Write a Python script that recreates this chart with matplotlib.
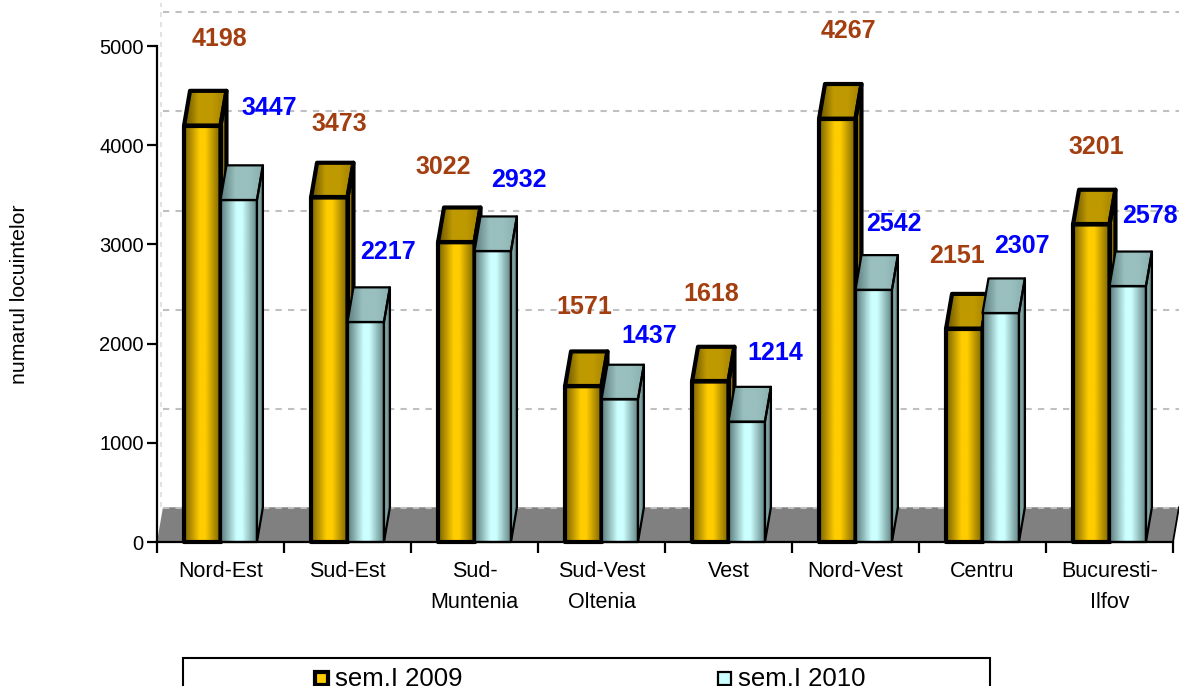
import numpy as np
import matplotlib
matplotlib.use('Agg')
import matplotlib.pyplot as plt
from matplotlib.colors import LinearSegmentedColormap
from matplotlib.patches import Polygon, Rectangle

plt.rcParams['font.family'] = ['Liberation Sans', 'DejaVu Sans']

regiuni = ['Nord-Est', 'Sud-Est', 'Sud-\nMuntenia', 'Sud-Vest\nOltenia', 'Vest',
           'Nord-Vest', 'Centru', 'Bucuresti-\nIlfov']
sem_2009 = [4198, 3473, 3022, 1571, 1618, 4267, 2151, 3201]
sem_2010 = [3447, 2217, 2932, 1437, 1214, 2542, 2307, 2578]
yticks = [0, 1000, 2000, 3000, 4000, 5000]

# pixel offsets of the value labels from the top of each bar
off_2009 = [(17, 87), (10, 73), (-13, 75), (1, 79), (1, 87), (11, 88), (-7, 73), (5, 77)]
off_2010 = [(31, 92), (22, 70), (26, 71), (30, 63), (29, 69), (20, 66), (21, 67), (22, 70)]

W, H = 1179, 686
fig = plt.figure(figsize=(W / 100, H / 100), dpi=100)
ax = fig.add_axes([157 / W, (H - 542) / H, 1016 / W, 496 / H])
ax.set_xlim(0, 8)
ax.set_ylim(0, 5000)

dx = 0.047    # depth of the fake 3d, in categories
dy = 350      # and in axis units
grid_dy = 340
bw = 0.287    # bar width


def grad(ax, xy, colors, z):
    # polygon filled with a horizontal gradient
    cmap = LinearSegmentedColormap.from_list('g', colors)
    xs = [p[0] for p in xy]
    ys = [p[1] for p in xy]
    im = ax.imshow(np.linspace(0, 1, 64).reshape(1, -1), cmap=cmap, aspect='auto',
                   extent=[min(xs), max(xs), min(ys), max(ys)], zorder=z,
                   interpolation='bilinear')
    clip = Polygon(xy, closed=True, transform=ax.transData, fc='none', ec='none')
    ax.add_patch(clip)
    im.set_clip_box(None)
    im.set_clip_path(clip)


def bar3d(ax, x0, v, front, top, side, lw, z):
    x1 = x0 + bw
    grad(ax, [(x1, 0), (x1 + dx, dy), (x1 + dx, v + dy), (x1, v)], side, z)
    grad(ax, [(x0, v), (x0 + dx, v + dy), (x1 + dx, v + dy), (x1, v)], top, z + 0.1)
    grad(ax, [(x0, 0), (x1, 0), (x1, v), (x0, v)], front, z + 0.2)
    for xy in ([(x1, 0), (x1 + dx, dy), (x1 + dx, v + dy), (x1, v)],
               [(x0, v), (x0 + dx, v + dy), (x1 + dx, v + dy), (x1, v)],
               [(x0, 0), (x1, 0), (x1, v), (x0, v)]):
        ax.add_patch(Polygon(xy, closed=True, fc='none', ec='black', lw=lw,
                             joinstyle='round', zorder=z + 0.3, clip_on=False))


# floor and back wall
ax.add_patch(Polygon([(0, 0), (dx, dy), (8 + dx, dy), (8, 0)], closed=True, fc='#808080',
                     ec='none', zorder=1, clip_on=False))
ax.plot([8, 8 + dx], [0, dy], color='black', lw=1.3, zorder=1.5, clip_on=False)
for t in yticks:
    ax.plot([dx, 8 + dx], [t + grid_dy, t + grid_dy], color='#c0c0c0', lw=1.5, ls=(0, (3, 3)),
            zorder=1.2, clip_on=False)
ax.plot([dx * 0.6, dx * 0.6], [dy, 5000 + dy + 80], color='#dddddd', lw=1.2, ls=(0, (3, 3)),
        zorder=1.2, clip_on=False)

gold_front = [(0, '#7a6200'), (0.42, '#ffcc00'), (0.58, '#ffcc00'), (1, '#7a6200')]
gold_top = ['#665200', '#bf9900', '#bf9900', '#a08000']
gold_side = ['#bf9900', '#665200']
teal_front = [(0, '#5f7f7f'), (0.42, '#ccffff'), (0.58, '#ccffff'), (1, '#5f7f7f')]
teal_top = ['#5f7f7f', '#99bfbf', '#99bfbf', '#8aaeae']
teal_side = ['#99bfbf', '#5f7f7f']

for i in range(len(regiuni)):
    c = i + 0.5
    bar3d(ax, c - bw, sem_2009[i], gold_front, gold_top, gold_side, 3.0, 3 + i)
    bar3d(ax, c, sem_2010[i], teal_front, teal_top, teal_side, 1.6, 3.5 + i)
    ax.annotate(str(sem_2009[i]), (c - bw / 2, sem_2009[i]), xytext=off_2009[i],
                textcoords='offset pixels', ha='center', va='center', fontsize=18,
                fontweight='bold', color='#a33e10', zorder=20, annotation_clip=False)
    ax.annotate(str(sem_2010[i]), (c + bw / 2, sem_2010[i]), xytext=off_2010[i],
                textcoords='offset pixels', ha='center', va='center', fontsize=18,
                fontweight='bold', color='#0000ff', zorder=20, annotation_clip=False)

ax.set_xlim(0, 8)
ax.set_ylim(0, 5000)

for s in ['top', 'right']:
    ax.spines[s].set_visible(False)
for s in ['left', 'bottom']:
    ax.spines[s].set_linewidth(1.6)
    ax.spines[s].set_zorder(15)

ax.set_yticks(yticks)
ax.tick_params(axis='y', length=7.5, width=1.6, labelsize=14.5, pad=2)
ax.set_xticks(range(9))
ax.set_xticklabels([])
ax.tick_params(axis='x', which='major', length=8, width=1.6)
ax.set_xticks([i + 0.5 for i in range(8)], minor=True)
ax.set_xticklabels(regiuni, minor=True, fontsize=15.5, linespacing=1.6)
ax.tick_params(axis='x', which='minor', length=0, pad=14)

fig.text(20 / W, 1 - 294 / H, 'numarul locuintelor', rotation=90, fontsize=15.3,
         ha='center', va='center')

# legend box runs off the bottom of the picture
fig.add_artist(Rectangle((183 / W, -0.02), 807 / W, 0.02 + (H - 658) / H, fc='white', ec='black',
                         lw=1.5, transform=fig.transFigure))
leg = [(315, 'sem.I 2009', '#ffcc00', 3.0), (718, 'sem.I 2010', '#ccffff', 1.6)]
for px, txt, col, lw in leg:
    fig.add_artist(Rectangle((px / W, (H - 685) / H), 13 / W, 13 / H, fc=col, ec='black', lw=lw,
                             transform=fig.transFigure))
    fig.text((px + 20) / W, (H - 679) / H, txt, fontsize=18.5, ha='left', va='center')

fig.savefig('out.png', dpi=100)
